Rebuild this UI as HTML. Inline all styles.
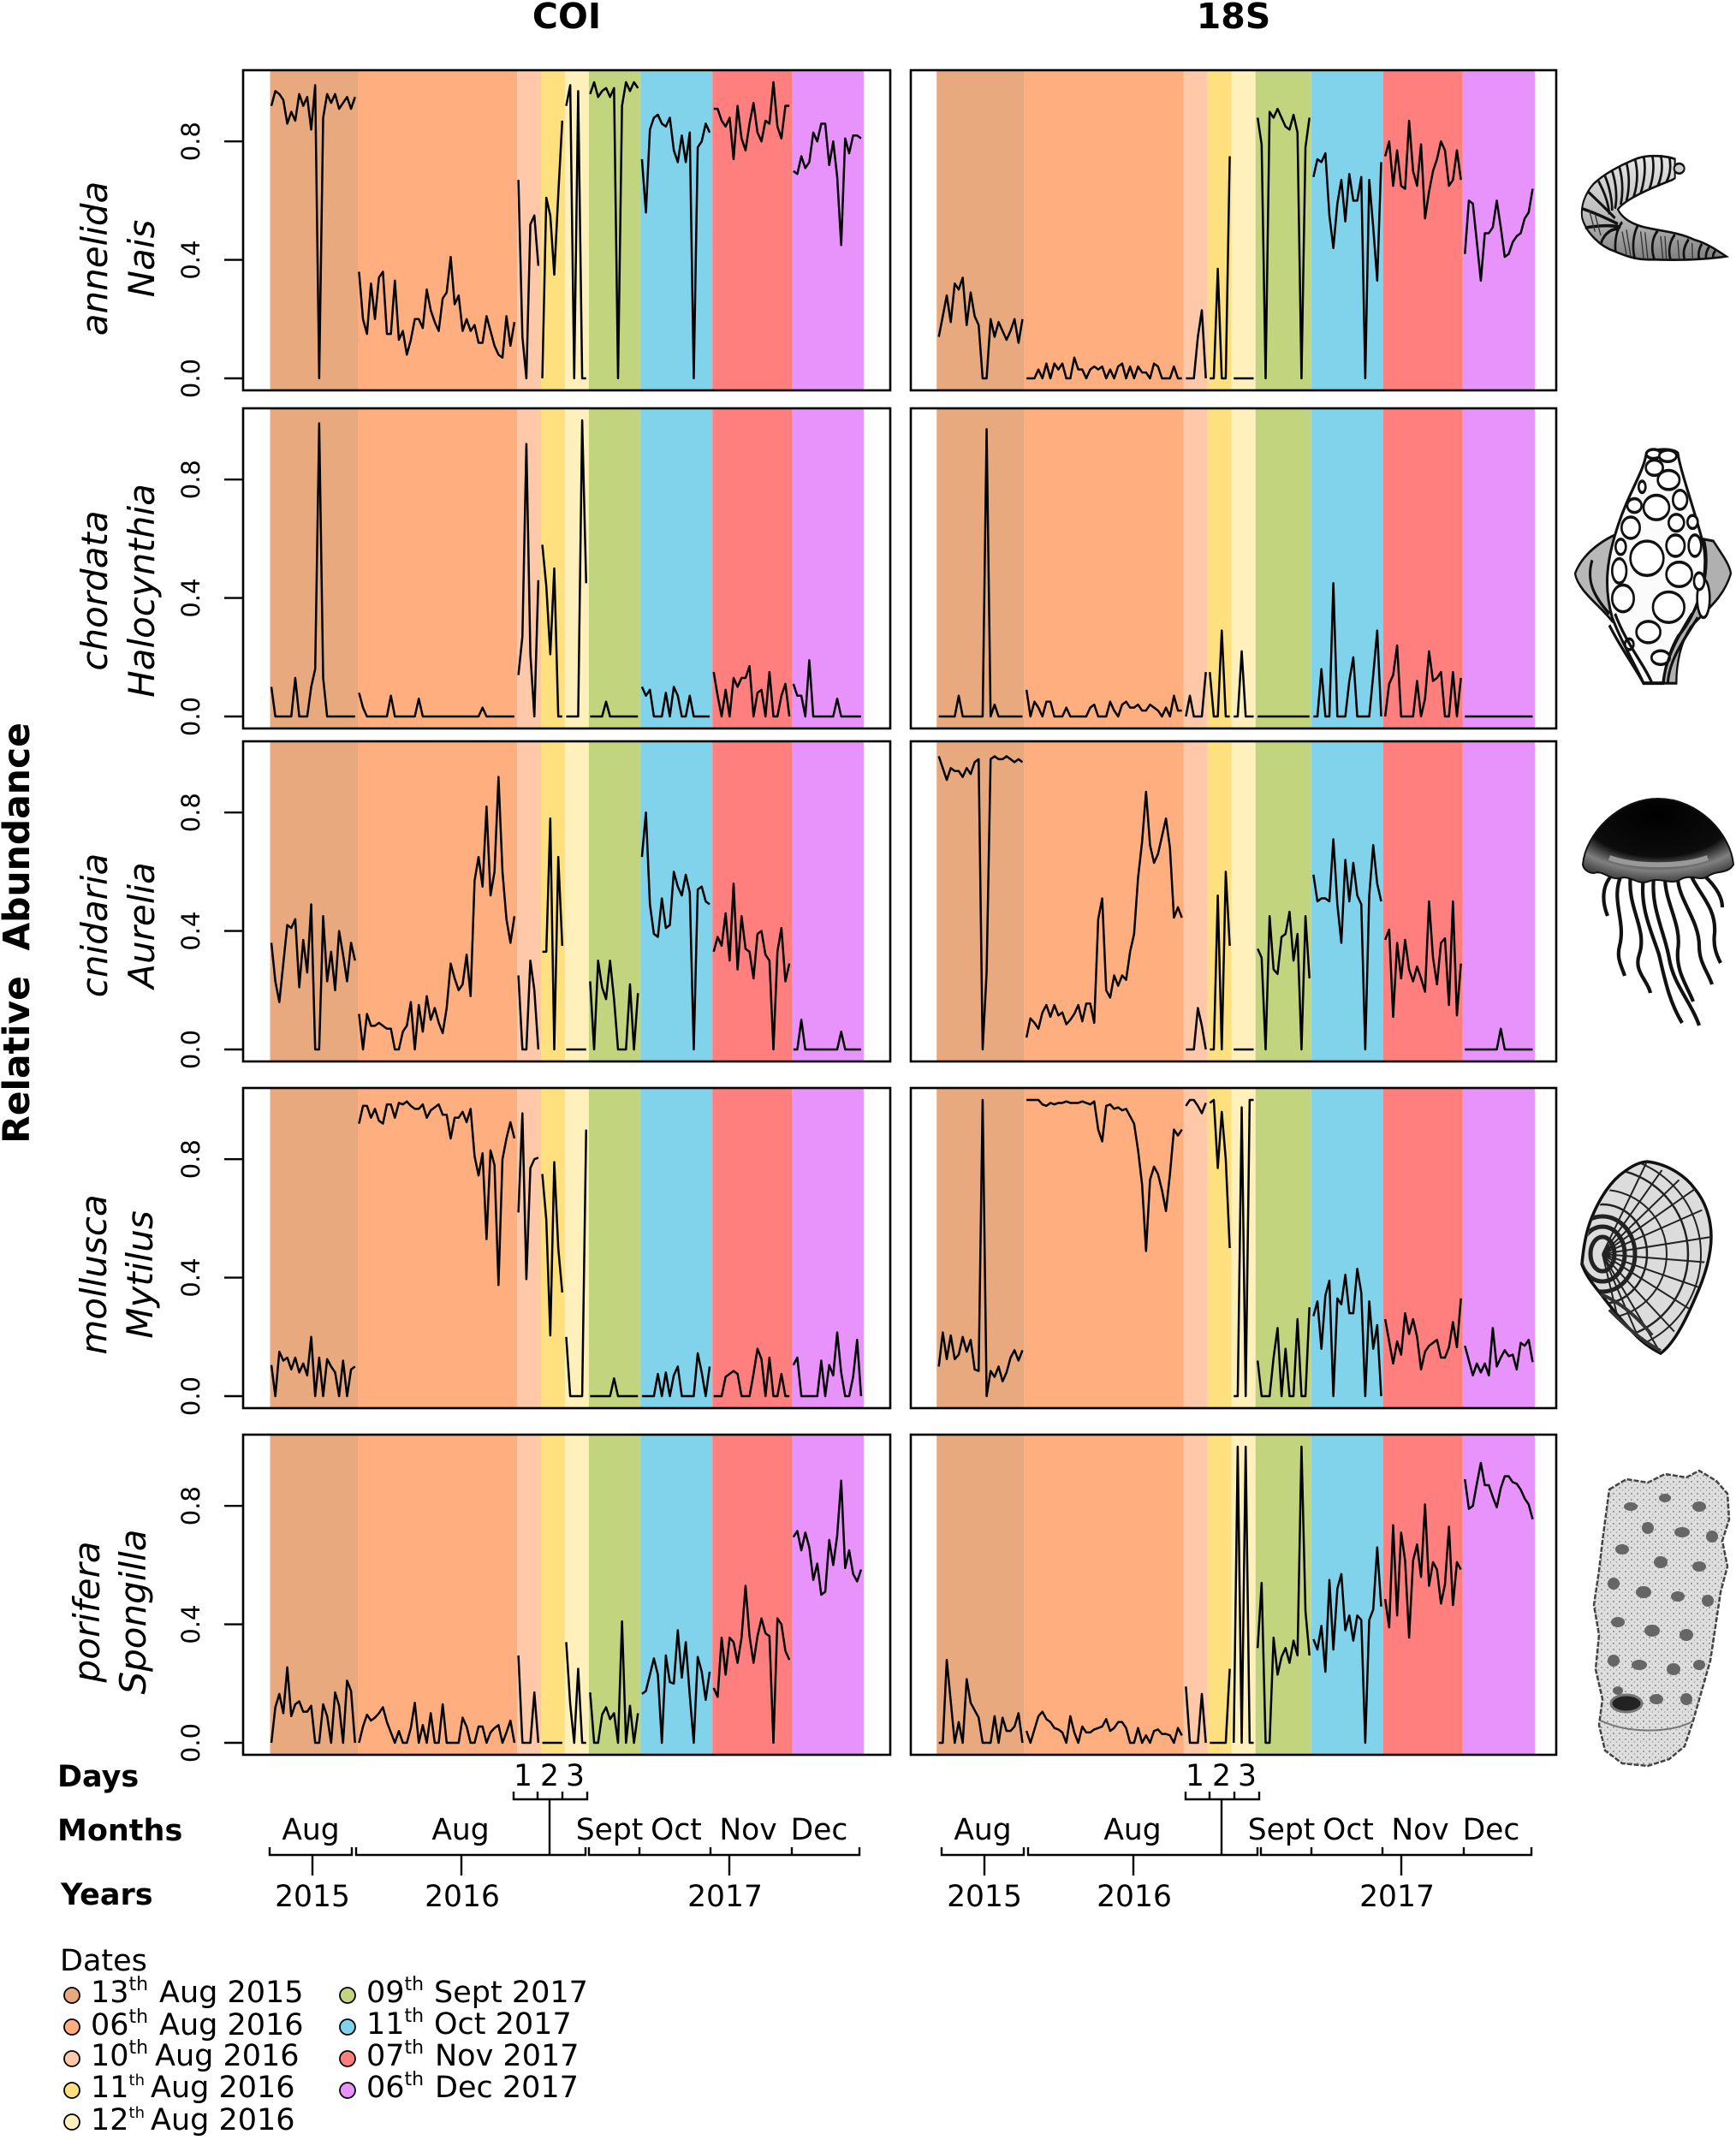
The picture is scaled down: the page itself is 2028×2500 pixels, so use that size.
<!DOCTYPE html>
<html lang="en">
<head>
<meta charset="utf-8">
<title>Relative abundance by taxon, COI and 18S</title>
<style>
  html, body { margin: 0; padding: 0; background: #fff; }
  svg { display: block; font-family: "DejaVu Sans", "Liberation Sans", sans-serif; fill: #000; }
  .tick-text { font-size: 29px; }
  .taxon { font-size: 42px; font-style: italic; }
  .axis-label { font-size: 35px; font-weight: bold; }
  .axis-text { font-size: 34.5px; }
  .legend-text { font-size: 35px; }
  .sup { font-size: 22px; }
  .sup-n { font-size: 18px; }
  .bracket { fill: none; stroke: #000; stroke-width: 2.4; }
  .dot { stroke: #000; stroke-width: 1.8; }
</style>
</head>
<body>
<svg id="chart" xmlns="http://www.w3.org/2000/svg" width="2028" height="2500" viewBox="0 0 2028 2500">
  <defs>
    <radialGradient id="jellyGrad" cx="50%" cy="20%" r="85%">
      <stop offset="0%" stop-color="#000"/>
      <stop offset="58%" stop-color="#0c0c0c"/>
      <stop offset="78%" stop-color="#808080"/>
      <stop offset="100%" stop-color="#2a2a2a"/>
    </radialGradient>
    <linearGradient id="wormGrad" x1="0" y1="0" x2="0" y2="1">
      <stop offset="0%" stop-color="#e6e6e6"/>
      <stop offset="55%" stop-color="#bdbdbd"/>
      <stop offset="100%" stop-color="#808080"/>
    </linearGradient>
    <pattern id="spongeStipple" width="7" height="7" patternUnits="userSpaceOnUse">
      <rect width="7" height="7" fill="#dedede"/>
      <circle cx="2" cy="2" r="1" fill="#8a8a8a"/>
      <circle cx="5.5" cy="5" r="0.8" fill="#9a9a9a"/>
    </pattern>
    <clipPath id="musselClip">
      <path d="M1924,1357 L1980,1389 L1999,1445 L1980,1517 L1940,1581 L1908,1557 L1868,1509 L1848,1477 L1860,1421 L1892,1373 Z"/>
    </clipPath>
  </defs>

  <text x="662" y="33" font-size="41" font-weight="bold" text-anchor="middle">COI</text>
  <text x="1441" y="33" font-size="41" font-weight="bold" text-anchor="middle">18S</text>
  <text transform="translate(34,1090) rotate(-90)" font-size="42.4" font-weight="bold" text-anchor="middle" xml:space="preserve">Relative  Abundance</text>

  <g>
    <text class="taxon" text-anchor="middle" transform="translate(125,302) rotate(-90)">annelida</text>
    <text class="taxon" text-anchor="middle" transform="translate(180,302) rotate(-90)">Nais</text>
    <text class="taxon" text-anchor="middle" transform="translate(125,690) rotate(-90)">chordata</text>
    <text class="taxon" text-anchor="middle" transform="translate(180,690) rotate(-90)">Halocynthia</text>
    <text class="taxon" text-anchor="middle" transform="translate(125,1081) rotate(-90)">cnidaria</text>
    <text class="taxon" text-anchor="middle" transform="translate(180,1081) rotate(-90)">Aurelia</text>
    <text class="taxon" text-anchor="middle" transform="translate(124,1489) rotate(-90)">mollusca</text>
    <text class="taxon" text-anchor="middle" transform="translate(178,1489) rotate(-90)">Mytilus</text>
    <text class="taxon" text-anchor="middle" transform="translate(116,1883) rotate(-90)">porifera</text>
    <text class="taxon" text-anchor="middle" transform="translate(170,1883) rotate(-90)">Spongilla</text>
  </g>

  <g id="panels"></g>

  <text class="axis-label" x="67" y="2087">Days</text>
  <text class="axis-label" x="67" y="2150">Months</text>
  <text class="axis-label" x="71" y="2225">Years</text>

  <g>
    <text class="axis-text" x="611" y="2086" text-anchor="middle">1</text>
    <text class="axis-text" x="642" y="2086" text-anchor="middle">2</text>
    <text class="axis-text" x="672" y="2086" text-anchor="middle">3</text>
    <path class="bracket" d="M600,2093V2102H686V2093M628,2093V2102M657,2093V2102M642,2102V2167"/>
    <path class="bracket" d="M315,2158V2167H411V2158M416,2158V2167H684V2158M688,2158V2167H1004V2158M747,2158V2167M830,2158V2167M925,2158V2167"/>
    <path class="bracket" d="M365,2167V2191M539,2167V2191M852,2167V2191"/>
    <text class="axis-text" x="363" y="2149" text-anchor="middle">Aug</text>
    <text class="axis-text" x="538" y="2149" text-anchor="middle">Aug</text>
    <text class="axis-text" x="712" y="2149" text-anchor="middle">Sept</text>
    <text class="axis-text" x="790" y="2149" text-anchor="middle">Oct</text>
    <text class="axis-text" x="874" y="2149" text-anchor="middle">Nov</text>
    <text class="axis-text" x="957" y="2149" text-anchor="middle">Dec</text>
    <text class="axis-text" x="365" y="2227" text-anchor="middle">2015</text>
    <text class="axis-text" x="540" y="2227" text-anchor="middle">2016</text>
    <text class="axis-text" x="847" y="2227" text-anchor="middle">2017</text>
  </g>

  <g transform="translate(785,0)">
    <text class="axis-text" x="611" y="2086" text-anchor="middle">1</text>
    <text class="axis-text" x="642" y="2086" text-anchor="middle">2</text>
    <text class="axis-text" x="672" y="2086" text-anchor="middle">3</text>
    <path class="bracket" d="M600,2093V2102H686V2093M628,2093V2102M657,2093V2102M642,2102V2167"/>
    <path class="bracket" d="M315,2158V2167H411V2158M416,2158V2167H684V2158M688,2158V2167H1004V2158M747,2158V2167M830,2158V2167M925,2158V2167"/>
    <path class="bracket" d="M365,2167V2191M539,2167V2191M852,2167V2191"/>
    <text class="axis-text" x="363" y="2149" text-anchor="middle">Aug</text>
    <text class="axis-text" x="538" y="2149" text-anchor="middle">Aug</text>
    <text class="axis-text" x="712" y="2149" text-anchor="middle">Sept</text>
    <text class="axis-text" x="790" y="2149" text-anchor="middle">Oct</text>
    <text class="axis-text" x="874" y="2149" text-anchor="middle">Nov</text>
    <text class="axis-text" x="957" y="2149" text-anchor="middle">Dec</text>
    <text class="axis-text" x="365" y="2227" text-anchor="middle">2015</text>
    <text class="axis-text" x="540" y="2227" text-anchor="middle">2016</text>
    <text class="axis-text" x="847" y="2227" text-anchor="middle">2017</text>
  </g>

  <g>
    <text class="legend-text" x="70" y="2302">Dates</text>

    <g>
      <circle class="dot" cx="84" cy="2331" r="9" fill="#E8A97F"/>
      <text class="legend-text" x="106" y="2339">13<tspan class="sup" dy="-14">th</tspan><tspan x="186" dy="14">Aug 2015</tspan></text>
    </g>
    <g>
      <circle class="dot" cx="84" cy="2368" r="9" fill="#FFAF7F"/>
      <text class="legend-text" x="106" y="2377">06<tspan class="sup" dy="-14">th</tspan><tspan x="186" dy="14">Aug 2016</tspan></text>
    </g>
    <g>
      <circle class="dot" cx="84" cy="2405" r="9" fill="#FFC8A8"/>
      <text class="legend-text" x="106" y="2413">10<tspan class="sup" dy="-14">th</tspan><tspan x="181" dy="14">Aug 2016</tspan></text>
    </g>
    <g>
      <circle class="dot" cx="84" cy="2442" r="9" fill="#FFE07F"/>
      <text class="legend-text" x="106" y="2450">11<tspan class="sup-n" dy="-14">th</tspan><tspan x="176" dy="14">Aug 2016</tspan></text>
    </g>
    <g>
      <circle class="dot" cx="84" cy="2479" r="9" fill="#FFF0BC"/>
      <text class="legend-text" x="106" y="2488">12<tspan class="sup-n" dy="-14">th</tspan><tspan x="176" dy="14">Aug 2016</tspan></text>
    </g>

    <g>
      <circle class="dot" cx="406" cy="2331" r="9" fill="#C3D47F"/>
      <text class="legend-text" x="428" y="2339">09<tspan class="sup" dy="-14">th</tspan><tspan x="507" dy="14">Sept 2017</tspan></text>
    </g>
    <g>
      <circle class="dot" cx="406" cy="2368" r="9" fill="#80D3EA"/>
      <text class="legend-text" x="428" y="2376">11<tspan class="sup" dy="-14">th</tspan><tspan x="507" dy="14">Oct 2017</tspan></text>
    </g>
    <g>
      <circle class="dot" cx="406" cy="2405" r="9" fill="#FF7F7F"/>
      <text class="legend-text" x="428" y="2413">07<tspan class="sup" dy="-14">th</tspan><tspan x="508" dy="14">Nov 2017</tspan></text>
    </g>
    <g>
      <circle class="dot" cx="406" cy="2442" r="9" fill="#E892FB"/>
      <text class="legend-text" x="428" y="2450">06<tspan class="sup" dy="-14">th</tspan><tspan x="508" dy="14">Dec 2017</tspan></text>
    </g>
  </g>

  <!-- Nais worm -->
  <g transform="translate(1780,150) scale(0.3333,0.4464)">
    <path fill="url(#wormGrad)" stroke="#111" stroke-width="6" d="M530,80 C500,72 440,68 400,78 C340,95 280,120 245,145 C215,170 198,205 205,235 C220,275 270,310 320,322 C360,335 400,345 450,343 C520,345 620,345 710,335 C680,320 640,300 600,292 C540,270 470,268 420,258 C380,250 345,235 330,212 C350,190 420,165 470,150 C500,140 525,135 530,130 Z"/>
    <ellipse cx="545" cy="105" rx="18" ry="13" fill="#ccc" stroke="#111" stroke-width="6"/>
    <path fill="none" stroke="#111" stroke-width="8" d="M510,74 C518,100 512,125 500,140 M480,70 C490,100 482,130 470,150 M450,70 C460,100 452,135 440,160 M420,72 C430,105 422,140 410,170 M390,80 C402,115 398,150 385,180 M360,90 C372,125 370,160 360,190 M335,100 C348,135 348,170 340,200 M310,112 C325,145 328,185 320,210 M285,125 C302,155 310,190 310,215 M262,138 C285,170 298,200 300,225 M225,165 C260,190 295,215 320,235 M205,210 C245,220 290,235 330,250 M215,260 C260,255 300,252 340,258 M270,305 C275,285 295,265 330,262 M322,322 C318,295 325,265 345,245 M390,342 C378,310 385,275 400,254 M458,343 C445,315 450,285 470,268 M515,345 C505,320 512,295 530,278 M565,345 C555,325 565,305 578,290 M615,342 C610,330 615,312 625,302 M640,342 C636,332 642,318 650,310 M665,338 C662,332 666,325 672,320"/>
    <path fill="none" stroke="#333" stroke-width="4" d="M345,270 L360,330 M360,265 L375,335 M410,270 L420,340 M425,272 L435,342 M480,282 L488,342 M495,282 L500,342 M540,292 L545,342 M590,300 L592,342 M250,225 L270,280 M230,215 L250,270"/>
  </g>

  <!-- Halocynthia -->
  <g transform="translate(1780,150) scale(0.3333,0.4464)">
    <path fill="#b8b8b8" stroke="#111" stroke-width="7" d="M325,1062 C270,1080 205,1115 180,1165 C190,1210 270,1250 310,1290 L340,1300 C290,1200 290,1130 325,1062 Z"/>
    <path fill="#b0b0b0" stroke="#111" stroke-width="7" d="M632,1075 L665,1080 C690,1110 722,1140 726,1165 C700,1230 640,1260 585,1305 C550,1345 535,1400 535,1452 L490,1452 C495,1380 550,1320 600,1260 C640,1200 650,1130 632,1075 Z"/>
    <path fill="#fbfbfb" stroke="#111" stroke-width="9" d="M430,850 C470,838 520,838 540,850 C550,900 600,1000 630,1090 C650,1170 610,1270 540,1330 C510,1370 495,1410 488,1452 L420,1452 C395,1410 340,1340 310,1280 C280,1200 290,1130 330,1040 C370,950 420,900 430,850 Z"/>
    <g fill="#fff" stroke="#111" stroke-width="8">
      <ellipse cx="455" cy="852" rx="25" ry="12"/><ellipse cx="505" cy="857" rx="30" ry="15"/>
      <ellipse cx="458" cy="888" rx="30" ry="20"/><ellipse cx="508" cy="920" rx="38" ry="25"/>
      <ellipse cx="415" cy="938" rx="12" ry="15"/><ellipse cx="548" cy="972" rx="25" ry="25"/>
      <ellipse cx="465" cy="992" rx="45" ry="32"/><ellipse cx="388" cy="987" rx="25" ry="18"/>
      <ellipse cx="535" cy="1032" rx="27" ry="22"/><ellipse cx="592" cy="1030" rx="18" ry="17"/>
      <ellipse cx="375" cy="1045" rx="32" ry="28"/><ellipse cx="340" cy="1095" rx="18" ry="20"/>
      <ellipse cx="532" cy="1092" rx="32" ry="28"/><ellipse cx="600" cy="1092" rx="22" ry="28"/>
      <ellipse cx="432" cy="1125" rx="58" ry="45"/><ellipse cx="335" cy="1158" rx="25" ry="32"/>
      <ellipse cx="545" cy="1167" rx="45" ry="32"/><ellipse cx="348" cy="1230" rx="38" ry="35"/>
      <ellipse cx="508" cy="1253" rx="55" ry="40"/><ellipse cx="437" cy="1318" rx="42" ry="28"/>
      <ellipse cx="630" cy="1230" rx="22" ry="50"/><ellipse cx="480" cy="1385" rx="32" ry="18"/>
      <ellipse cx="370" cy="1350" rx="15" ry="14"/><ellipse cx="615" cy="1185" rx="18" ry="22"/>
    </g>
    <path fill="none" stroke="#111" stroke-width="9" d="M300,1300 C340,1360 390,1410 420,1452 M320,1270 C360,1350 420,1400 450,1452 M490,1452 C495,1390 540,1330 590,1270 M505,1452 C510,1390 560,1340 610,1280 M240,1130 C220,1180 240,1220 300,1270"/>
  </g>

  <!-- Aurelia jellyfish -->
  <g>
    <path fill="none" stroke="#111" stroke-width="4.2" d="M1895,1020 C1880,1050 1900,1075 1892,1105 C1888,1120 1895,1130 1898,1140 M1905,1022 C1900,1060 1925,1085 1915,1115 C1908,1135 1925,1145 1928,1160 M1920,1025 C1915,1060 1930,1090 1938,1115 C1945,1145 1950,1170 1965,1195 M1932,1025 C1928,1060 1945,1090 1950,1120 C1955,1150 1975,1170 1985,1198 M1945,1025 C1945,1055 1965,1080 1960,1110 C1958,1135 1970,1150 1978,1170 M1960,1025 C1960,1050 1985,1075 1985,1105 C1985,1125 1995,1135 2000,1150 M1975,1022 C1985,1045 2005,1060 2003,1090 C2001,1105 2005,1115 2010,1125 M1888,1018 C1872,1030 1870,1050 1878,1070 M1985,1018 C2000,1030 2012,1045 2012,1060"/>
    <path fill="url(#jellyGrad)" stroke="#111" stroke-width="2" d="M1849,1010 C1852,975 1890,933 1937,933 C1985,933 2022,975 2025,1010 C2018,1022 2005,1016 1995,1024 C1985,1030 1975,1020 1962,1028 C1950,1034 1940,1024 1925,1030 C1912,1034 1905,1022 1892,1026 C1880,1028 1872,1016 1862,1020 C1856,1020 1850,1016 1849,1010 Z"/>
    <path fill="none" stroke="#999" stroke-width="6" d="M1880,1002 C1910,1013 1965,1013 1995,1002"/>
  </g>

  <!-- Mytilus -->
  <g>
    <path fill="#dcdcdc" stroke="#111" stroke-width="3.5" d="M1924,1357 C1950,1360 1970,1375 1980,1389 C1993,1405 1999,1425 1999,1445 C1999,1470 1990,1495 1980,1517 C1968,1545 1955,1570 1940,1581 C1928,1575 1918,1568 1908,1557 C1892,1540 1880,1525 1868,1509 C1858,1497 1852,1488 1848,1477 C1850,1455 1853,1438 1860,1421 C1868,1402 1878,1385 1892,1373 C1902,1365 1912,1358 1924,1357 Z"/>
    <g clip-path="url(#musselClip)" fill="none" stroke="#222">
      <path stroke-width="2" d="M1872,1465 L1924,1357 M1872,1465 L1945,1362 M1872,1465 L1965,1375 M1872,1465 L1980,1389 M1872,1465 L1992,1412 M1872,1465 L1999,1445 M1872,1465 L1997,1475 M1872,1465 L1988,1505 M1872,1465 L1975,1530 M1872,1465 L1960,1560 M1872,1465 L1940,1581 M1872,1465 L1915,1565 M1872,1465 L1890,1540"/>
      <ellipse cx="1872" cy="1465" rx="115" ry="115" stroke-width="2"/>
      <ellipse cx="1872" cy="1465" rx="100" ry="100" stroke-width="2.5"/>
      <ellipse cx="1872" cy="1465" rx="75" ry="75" stroke-width="2"/>
      <ellipse cx="1872" cy="1465" rx="52" ry="58" stroke-width="2.5"/>
      <ellipse cx="1872" cy="1465" rx="38" ry="44" stroke-width="5"/>
      <ellipse cx="1872" cy="1465" rx="26" ry="32" stroke-width="5"/>
      <ellipse cx="1872" cy="1465" rx="14" ry="20" stroke-width="5"/>
    </g>
    <path fill="none" stroke="#333" stroke-width="4" d="M1880,1530 C1895,1545 1915,1565 1940,1578 M1870,1512 C1890,1520 1910,1535 1930,1560"/>
  </g>

  <!-- Spongilla -->
  <g>
    <path fill="url(#spongeStipple)" stroke="#444" stroke-width="2.5" stroke-dasharray="6 2" d="M1880,1740 L1900,1728 L1925,1732 L1945,1722 L1970,1726 L1985,1718 L2005,1730 L2018,1745 L2020,1775 L2012,1800 L2018,1830 L2010,1860 L2004,1900 L1998,1940 L1988,1975 L1978,2010 L1968,2040 L1950,2055 L1925,2063 L1895,2060 L1875,2045 L1868,2015 L1872,1985 L1864,1950 L1868,1910 L1862,1875 L1868,1835 L1872,1800 L1876,1770 Z"/>
    <g fill="#666">
      <ellipse cx="1905" cy="1760" rx="8" ry="5"/><ellipse cx="1945" cy="1750" rx="7" ry="5"/><ellipse cx="1985" cy="1760" rx="8" ry="6"/>
      <ellipse cx="1925" cy="1785" rx="7" ry="7"/><ellipse cx="1965" cy="1790" rx="9" ry="6"/><ellipse cx="2000" cy="1795" rx="7" ry="7"/>
      <ellipse cx="1895" cy="1810" rx="8" ry="6"/><ellipse cx="1940" cy="1825" rx="8" ry="7"/><ellipse cx="1985" cy="1830" rx="8" ry="6"/>
      <ellipse cx="1885" cy="1850" rx="7" ry="7"/><ellipse cx="1920" cy="1860" rx="9" ry="7"/><ellipse cx="1960" cy="1865" rx="8" ry="6"/><ellipse cx="1995" cy="1870" rx="7" ry="7"/>
      <ellipse cx="1890" cy="1895" rx="8" ry="6"/><ellipse cx="1930" cy="1905" rx="9" ry="7"/><ellipse cx="1970" cy="1910" rx="8" ry="7"/>
      <ellipse cx="1885" cy="1940" rx="7" ry="7"/><ellipse cx="1915" cy="1945" rx="9" ry="6"/><ellipse cx="1955" cy="1950" rx="8" ry="7"/><ellipse cx="1985" cy="1945" rx="7" ry="6"/>
      <ellipse cx="1890" cy="1975" rx="6" ry="5"/><ellipse cx="1935" cy="1985" rx="8" ry="6"/><ellipse cx="1970" cy="1985" rx="7" ry="7"/>
    </g>
    <path fill="none" stroke="#777" stroke-width="2" d="M1870,2010 C1900,2025 1950,2025 1975,2012"/>
    <ellipse cx="1900" cy="1990" rx="18" ry="10" fill="#222" stroke="#777" stroke-width="3"/>
  </g>

  <script>
  // ---- Chart data: relative abundance read per sample, grouped by sampling date ----
  const yTickValues = [0, 0.4, 0.8];
  const yTickLabels = ['0.0', '0.4', '0.8'];
  const dateLabels = ['13 Aug 2015', '06 Aug 2016', '10 Aug 2016', '11 Aug 2016', '12 Aug 2016', '09 Sept 2017', '11 Oct 2017', '07 Nov 2017', '06 Dec 2017'];

  const annelidaCOI = [
    [.92,.97,.96,.94,.86,.90,.87,.96,.92,.95,.84,.99,0,.88,.96,.93,.96,.91,.93,.95,.91,.95],
    [.36,.20,.15,.32,.20,.34,.36,.15,.15,.33,.13,.16,.08,.13,.20,.20,.17,.30,.23,.19,.16,.27,.29,.41,.25,.28,.16,.20,.16,.18,.12,.12,.21,.16,.11,.08,.07,.21,.11,.19],
    [.67,.14,0,.52,.55,.38],
    [0,.61,.55,.35,.62,.87],
    [.92,.99,0,.97,0,0],
    [.96,1.0,.95,.97,.98,.95,.98,0,.92,1.0,.97,1.0,.98],
    [.74,.56,.84,.88,.89,.86,.85,.88,.77,.73,.82,.73,.83,0,.78,.80,.86,.83],
    [.91,.91,.87,.85,.88,.74,.92,.81,.77,.86,.93,.83,.80,.87,.86,1.0,.85,.81,.92,.92],
    [.70,.69,.75,.71,.73,.83,.80,.86,.86,.72,.80,.68,.45,.81,.76,.82,.82,.81]
  ];
  const annelida18S = [
    [.14,.21,.28,.19,.32,.30,.34,.18,.29,.21,.18,0,0,.20,.14,.19,.16,.13,.16,.20,.12,.20],
    [0,0,0,.03,0,.05,0,.05,.03,.05,0,0,.07,.03,.03,0,.03,.04,.03,.04,0,.03,0,.04,.05,0,.04,0,.04,.02,.02,0,.05,.04,0,0,0,.04,0,0],
    [0,0,0,.14,.23,0],
    [0,0,.37,0,0,.75],
    [0,0,0,0,0,0],
    [.88,.79,0,.90,.88,.91,.88,.85,.84,.89,.83,0,.78,.88],
    [.68,.74,.73,.76,.55,.44,.59,.67,.53,.69,.60,.60,.68,0,.67,.51,.33,.73],
    [.75,.80,.65,.77,.65,.64,.87,.70,.65,.79,.54,.63,.70,.74,.80,.77,.65,.67,.77,.67],
    [.42,.60,.59,.46,.33,.49,.49,.51,.60,.51,.41,.42,.46,.48,.49,.54,.56,.64]
  ];
  const chordataCOI = [
    [.10,0,0,0,0,0,.13,0,0,0,.10,.16,.99,.13,0,0,0,0,0,0,0,0],
    [.08,.03,0,0,0,0,0,0,.07,0,0,0,0,0,0,.06,0,0,0,0,0,0,0,0,0,0,0,0,0,0,0,.03,0,0,0,0,0,0,0,0],
    [.14,.27,.92,.21,0,.46],
    [.58,.44,.21,.50,0,0],
    [0,0,0,0,1.0,.45],
    [0,0,0,0,.05,0,0,0,0,0,0,0,0],
    [.10,.07,.09,0,0,0,.08,0,.10,.07,0,0,.07,0,0,0,0,0],
    [.15,.07,0,.09,0,.13,.10,.13,.13,.17,0,.08,.09,0,.15,0,0,.07,.11,0],
    [.11,.07,.07,0,.19,0,0,0,0,0,0,.06,0,0,0,0,0,0]
  ];
  const chordata18S = [
    [0,0,0,0,0,.07,0,0,0,0,0,0,.97,0,.04,0,0,0,0,0,0,0],
    [.09,0,.05,.03,0,.05,.05,0,0,0,.03,0,0,0,0,0,.03,.04,0,0,0,.05,.02,0,.04,.05,.03,.03,.04,.02,.02,.04,.03,.02,0,.03,0,.07,.02,.02],
    [0,.07,0,0,0,.15],
    [.15,0,0,.29,0,0],
    [0,0,.22,0,0,0],
    [0,0,0,0,0,0,0,0,0,0,0,0,0,0],
    [0,0,.16,0,0,.45,0,0,0,.12,.20,0,0,0,0,.14,.29,0],
    [0,.11,.14,.24,0,0,0,0,.12,0,.06,.22,.12,.13,.15,0,0,.15,0,.13],
    [0,0,0,0,0,0,0,0,0,0,0,0,0,0,0,0,0,0]
  ];
  const cnidariaCOI = [
    [.36,.23,.16,.29,.42,.41,.44,.21,.37,.26,.49,0,0,.45,.23,.33,.20,.40,.32,.23,.36,.30],
    [.12,0,.12,.08,.08,.09,.08,.07,.07,0,0,.06,.08,.16,0,.15,.06,.18,.10,.14,.09,.055,.14,.29,.24,.20,.22,.32,.18,.57,.65,.55,.82,.52,.60,.92,.60,.44,.36,.45],
    [.25,0,0,.30,.20,0],
    [.33,.33,.78,0,.65,.35],
    [0,0,0,0,0,0],
    [.23,0,.30,.21,.17,.30,.17,0,0,0,.22,0,.19],
    [.65,.80,.49,.39,.38,.51,.41,.42,.60,.55,.52,.59,.53,0,.54,.55,.50,.49],
    [.33,.38,.35,.46,.30,.56,.27,.45,.34,.33,.24,.39,.40,.32,.30,0,.33,.41,.23,.29],
    [0,0,.10,0,0,0,0,0,0,0,0,0,.06,0,0,0,0,0]
  ];
  const cnidaria18S = [
    [.99,.95,.91,.95,.94,.94,.92,.95,.93,.97,.98,0,.26,.98,.99,.98,.98,.99,.98,.97,.98,.97],
    [.04,.105,.09,.07,.125,.15,.11,.15,.115,.125,.085,.10,.12,.15,.095,.155,.155,.09,.44,.51,.20,.175,.25,.215,.25,.235,.33,.39,.58,.70,.87,.69,.63,.66,.72,.78,.68,.445,.48,.445],
    [0,0,0,.14,.08,0],
    [0,0,.52,0,.60,.35],
    [0,0,0,0,0,0],
    [.34,.31,0,.45,.27,.255,.38,.39,.465,.30,.39,0,.45,.24],
    [.59,.50,.51,.51,.50,.71,.49,.36,.64,.50,.63,.52,.49,0,.52,.69,.56,.50],
    [.37,.405,.11,.36,.24,.37,.27,.23,.28,.24,.195,.50,.31,.22,.36,.375,.15,.50,.115,.29],
    [0,0,0,0,0,0,0,0,0,.07,0,0,0,0,0,0,0,0]
  ];
  const molluscaCOI = [
    [.105,0,.15,.12,.13,.09,.13,.08,.11,.07,.20,0,.13,0,.125,.10,.08,0,.12,0,.09,.10],
    [.92,.98,.98,.94,.97,.93,.92,.985,.985,.94,.99,.985,.995,.98,.97,.97,.985,.94,.965,.975,.985,.95,.95,.87,.94,.94,.96,.925,.97,.81,.745,.82,.53,.83,.78,.375,.80,.87,.925,.87],
    [.62,.955,.395,.77,.80,.805],
    [.75,.595,.205,.79,.50,.35],
    [.20,0,0,0,0,.90],
    [0,0,0,0,0,0,.06,0,0,0,0,0,0],
    [0,0,0,0,.075,0,.08,0,.07,.10,0,0,0,0,.145,.08,0,.10],
    [0,0,0,.065,.075,.085,.075,0,0,0,.075,.16,.125,0,.13,0,0,.075,0,0],
    [.105,.13,0,0,0,0,0,.12,0,.105,.07,.215,.08,0,0,.065,.19,0]
  ];
  const mollusca18S = [
    [.10,.215,.125,.205,.125,.14,.20,.15,.19,.09,.085,1.0,0,.085,.065,.10,.05,.08,.13,.155,.12,.155],
    [1,1,1,1,.985,.98,.99,.985,.99,.99,.995,.99,.99,.99,.995,.99,.985,.995,.90,.86,.98,.985,.97,.975,.965,.97,.945,.92,.83,.715,.49,.73,.775,.75,.695,.625,.75,.90,.88,.90],
    [.98,1,1,.98,.955,.99],
    [.99,1,.77,.96,.80,.50],
    [0,0,.975,0,1,1],
    [.12,0,0,0,.13,.23,0,.16,0,0,.26,0,0,.30],
    [.27,.32,.16,.34,.39,0,.33,.31,.41,.28,.28,.43,.35,0,.32,.16,.24,0],
    [.26,.185,.11,.185,.14,.28,.21,.26,.20,.09,.15,.17,.18,.19,.13,.13,.165,.25,.165,.33],
    [.17,.12,.07,.11,.08,.11,.07,.23,.10,.13,.155,.135,.14,.09,.18,.17,.19,.115]
  ];
  const poriferaCOI = [
    [0,.12,.165,.10,.255,.09,.13,.14,.105,.105,.125,0,0,.13,.09,0,.17,.125,0,.21,.175,0],
    [0,.055,.095,.075,.085,.10,.12,.07,.035,0,.04,0,0,.05,.135,0,.06,0,.10,0,0,.13,0,0,0,0,.085,.055,0,0,.055,.055,0,.035,.05,.06,0,.035,.075,0],
    [.295,0,0,0,.17,0],
    [0,0,0,0,0,0],
    [.34,.13,0,.25,0,0],
    [.17,0,0,.095,.12,.08,.10,0,.41,0,.125,0,.10],
    [.165,.175,.23,.285,.23,0,.295,.205,.20,.38,.22,.34,.16,0,.29,.24,.145,.24],
    [.185,.155,.355,.23,.355,.34,.27,.355,.53,.36,.27,.36,.42,.37,.36,0,.42,.40,.31,.28],
    [.695,.715,.65,.71,.66,.55,.605,.50,.51,.685,.60,.70,.885,.59,.65,.57,.545,.585]
  ];
  const porifera18S = [
    [0,0,.28,.14,0,.07,0,.215,.135,.11,.085,0,0,0,.09,0,.085,.04,.04,.055,.10,0],
    [.04,0,.045,.09,.105,.08,.07,.05,.045,.035,0,.09,.035,0,.055,.035,.035,.045,.05,.055,.08,.04,.05,.07,.07,.05,0,0,.05,0,.025,0,.04,.045,.03,.03,.025,0,.05,.025],
    [.19,0,0,0,.165,0],
    [0,0,0,0,0,.25],
    [0,1.0,0,1.0,0,0],
    [.32,.54,0,0,.355,.23,.29,.32,.27,.345,.295,1.0,.445,.295],
    [.35,.315,.395,.24,.55,.315,.52,.57,.38,.43,.345,.43,.415,0,.415,.45,.66,.46],
    [.485,.39,.735,.43,.71,.615,.355,.615,.67,.56,.805,.53,.61,.585,.47,.535,.73,.465,.61,.585],
    [.89,.79,.80,.875,.945,.87,.87,.83,.795,.86,.90,.90,.88,.875,.855,.825,.805,.755]
  ];

  const coiRows = [annelidaCOI, chordataCOI, cnidariaCOI, molluscaCOI, poriferaCOI];
  const rna18Rows = [annelida18S, chordata18S, cnidaria18S, mollusca18S, porifera18S];

  // ---- Layout and style (separate from the data) ----
  const bandColors = ['#E8A97F', '#FFAF7F', '#FFC8A8', '#FFE07F', '#FFF0BC', '#C3D47F', '#80D3EA', '#FF7F7F', '#E892FB'];
  const rowTops = [82, 477, 866, 1271, 1676];
  const rowHeight = 374;
  const panelSpecs = [
    { rows: coiRows, left: 284, right: 1040, firstX: 317, step: 4.655, bandLead: 1.5, bandTail: 3, seam: '#F8A06C' },
    { rows: rna18Rows, left: 1064, right: 1818, firstX: 1096.7, step: 4.656, bandLead: 2.5, bandTail: 2.5, seam: null }
  ];

  const NS = 'http://www.w3.org/2000/svg';
  function make(tag, parent) {
    const el = document.createElementNS(NS, tag);
    parent.appendChild(el);
    return el;
  }
  function xScale(panel, sampleIndex) {
    return panel.firstX + sampleIndex * panel.step;
  }
  function yScale(rowIndex, value) {
    return rowTops[rowIndex] + rowHeight - 14 - value * 346;
  }

  const root = document.getElementById('panels');

  panelSpecs.forEach(function (panel, panelIndex) {
    panel.rows.forEach(function (series, rowIndex) {
      const top = rowTops[rowIndex];
      const group = make('g', root);
      
      

      // date bands: extents come from the number of samples on each date
      let offset = 0;
      series.forEach(function (samples, bandIndex) {
        const x0 = xScale(panel, offset) - panel.bandLead;
        const nextStart = offset + samples.length;
        const x1 = bandIndex === series.length - 1
          ? xScale(panel, nextStart - 1) + panel.bandTail
          : xScale(panel, nextStart) - panel.bandLead;
        const band = make('rect', group);
        
        
        band.setAttribute('x', x0);
        band.setAttribute('y', top);
        band.setAttribute('width', x1 - x0);
        band.setAttribute('height', rowHeight);
        band.setAttribute('fill', bandColors[bandIndex]);
        if (bandIndex === 0 && panel.seam) {
          const seam = make('rect', group);
          
          
          seam.setAttribute('x', x1 - 0.8);
          seam.setAttribute('y', top);
          seam.setAttribute('width', 1.6);
          seam.setAttribute('height', rowHeight);
          seam.setAttribute('fill', panel.seam);
        }
        offset = nextStart;
      });

      // one line per sampling date, broken between dates
      offset = 0;
      series.forEach(function (samples) {
        const pts = samples.map(function (v, i) {
          return xScale(panel, offset + i).toFixed(2) + ',' + yScale(rowIndex, v).toFixed(2);
        });
        const line = make('polyline', group);
        
        
        line.setAttribute('points', pts.join(' '));
        line.setAttribute('fill', 'none');
        line.setAttribute('stroke', '#000');
        line.setAttribute('stroke-width', '2.5');
        line.setAttribute('stroke-linejoin', 'round');
        offset += samples.length;
      });

      const frame = make('rect', group);
      
      
      frame.setAttribute('x', panel.left);
      frame.setAttribute('y', top);
      frame.setAttribute('width', panel.right - panel.left);
      frame.setAttribute('height', rowHeight);
      frame.setAttribute('fill', 'none');
      frame.setAttribute('stroke', '#000');
      frame.setAttribute('stroke-width', '2.6');

      if (panelIndex === 0) {
        yTickValues.forEach(function (tickValue, t) {
          const y = yScale(rowIndex, tickValue);
          const tick = make('line', group);
          
          
          tick.setAttribute('x1', panel.left - 22);
          tick.setAttribute('x2', panel.left);
          tick.setAttribute('y1', y);
          tick.setAttribute('y2', y);
          tick.setAttribute('stroke', '#000');
          tick.setAttribute('stroke-width', '2.4');

          const label = make('text', group);
          
          
          label.setAttribute('class', 'tick-text');
          label.setAttribute('text-anchor', 'middle');
          label.setAttribute('transform', 'translate(233,' + y + ') rotate(-90)');
          label.textContent = yTickLabels[t];
        });
      }
    });
  });
  </script>
</svg>
</body>
</html>
